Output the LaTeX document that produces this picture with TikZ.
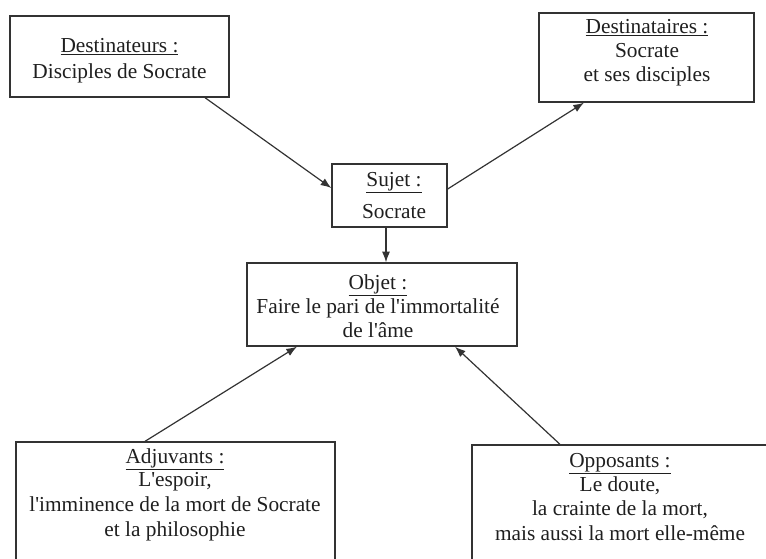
\documentclass[tikz,border=0pt]{standalone}
\usepackage{fontspec}
\setmainfont{Liberation Serif}
\usetikzlibrary{arrows.meta,calc}
\definecolor{linec}{HTML}{333333}
\newcommand{\sq}{\textquotesingle{}}
\tikzset{
  box/.style={draw=linec, line width=1pt, rectangle, inner sep=0pt, fill=none},
  txt/.style={font=\fontsize{16}{18}\selectfont, anchor=base, inner sep=0pt, text=black!88},
  conn/.style={draw=linec, line width=0.9pt, -{Latex[length=8pt,width=6pt]}}
}
\begin{document}
\begin{tikzpicture}[x=0.75pt,y=-0.75pt]
\useasboundingbox (0,0) rectangle (766,558);
\clip (0,0) rectangle (766,558);
% boxes
\node[box, minimum width=219*0.75pt, minimum height=81*0.75pt] (dtr) at (119.5,56.5) {};
\node[box, minimum width=215*0.75pt, minimum height=89*0.75pt] (dta) at (646.5,57.5) {};
\node[box, minimum width=115*0.75pt, minimum height=63*0.75pt] (suj) at (389.5,195.5) {};
\node[box, minimum width=270*0.75pt, minimum height=83*0.75pt] (obj) at (382,304.5) {};
\node[box, minimum width=319*0.75pt, minimum height=138*0.75pt] (adj) at (175.5,511) {};
\node[box, minimum width=296*0.75pt, minimum height=135*0.75pt] (opp) at (620,512.5) {};
% texts
\node[txt] (dtr1) at (119.5,52) {\underline{Destinateurs :}};
\node[txt] (dtr2) at (119.5,78) {Disciples de Socrate};
\node[txt] (dta1) at (647,33) {\underline{Destinataires :}};
\node[txt] (dta2) at (647,57) {Socrate};
\node[txt] (dta3) at (647,81) {et ses disciples};
\node[txt] (suj1) at (394,186) {\underline{Sujet :}};
\node[txt] (suj2) at (394,218) {Socrate};
\node[txt] (obj1) at (378,289) {\underline{Objet :}};
\node[txt] (obj2) at (378,313) {Faire le pari de l\sq immortalité};
\node[txt] (obj3) at (378,337) {de l\sq âme};
\node[txt] (adj1) at (175,463) {\underline{Adjuvants :}};
\node[txt] (adj2) at (175,486) {L\sq espoir,};
\node[txt] (adj3) at (175,511) {l\sq imminence de la mort de Socrate};
\node[txt] (adj4) at (175,536) {et la philosophie};
\node[txt] (opp1) at (620,467) {\underline{Opposants :}};
\node[txt] (opp2) at (620,491) {Le doute,};
\node[txt] (opp3) at (620,515) {la crainte de la mort,};
\node[txt] (opp4) at (620,540) {mais aussi la mort elle-même};
% connectors
\draw[conn] ($(dtr.south)+(85.5,0)$) -- ($(suj.west)+(0,-7.5)$);
\draw[conn] ($(suj.east)+(0,-6.5)$) -- ($(dta.south)+(-62.5,0)$);
\coordinate (sujs) at ($(suj.south)+(-3.5,0)$);
\draw[conn] (sujs) -- (sujs |- obj.north);
\draw[conn] ($(adj.north)+(-30.5,0)$) -- ($(obj.south)+(-85,0)$);
\draw[conn] ($(opp.north)+(-60,0)$) -- ($(obj.south)+(73,0)$);
\end{tikzpicture}
\end{document}
